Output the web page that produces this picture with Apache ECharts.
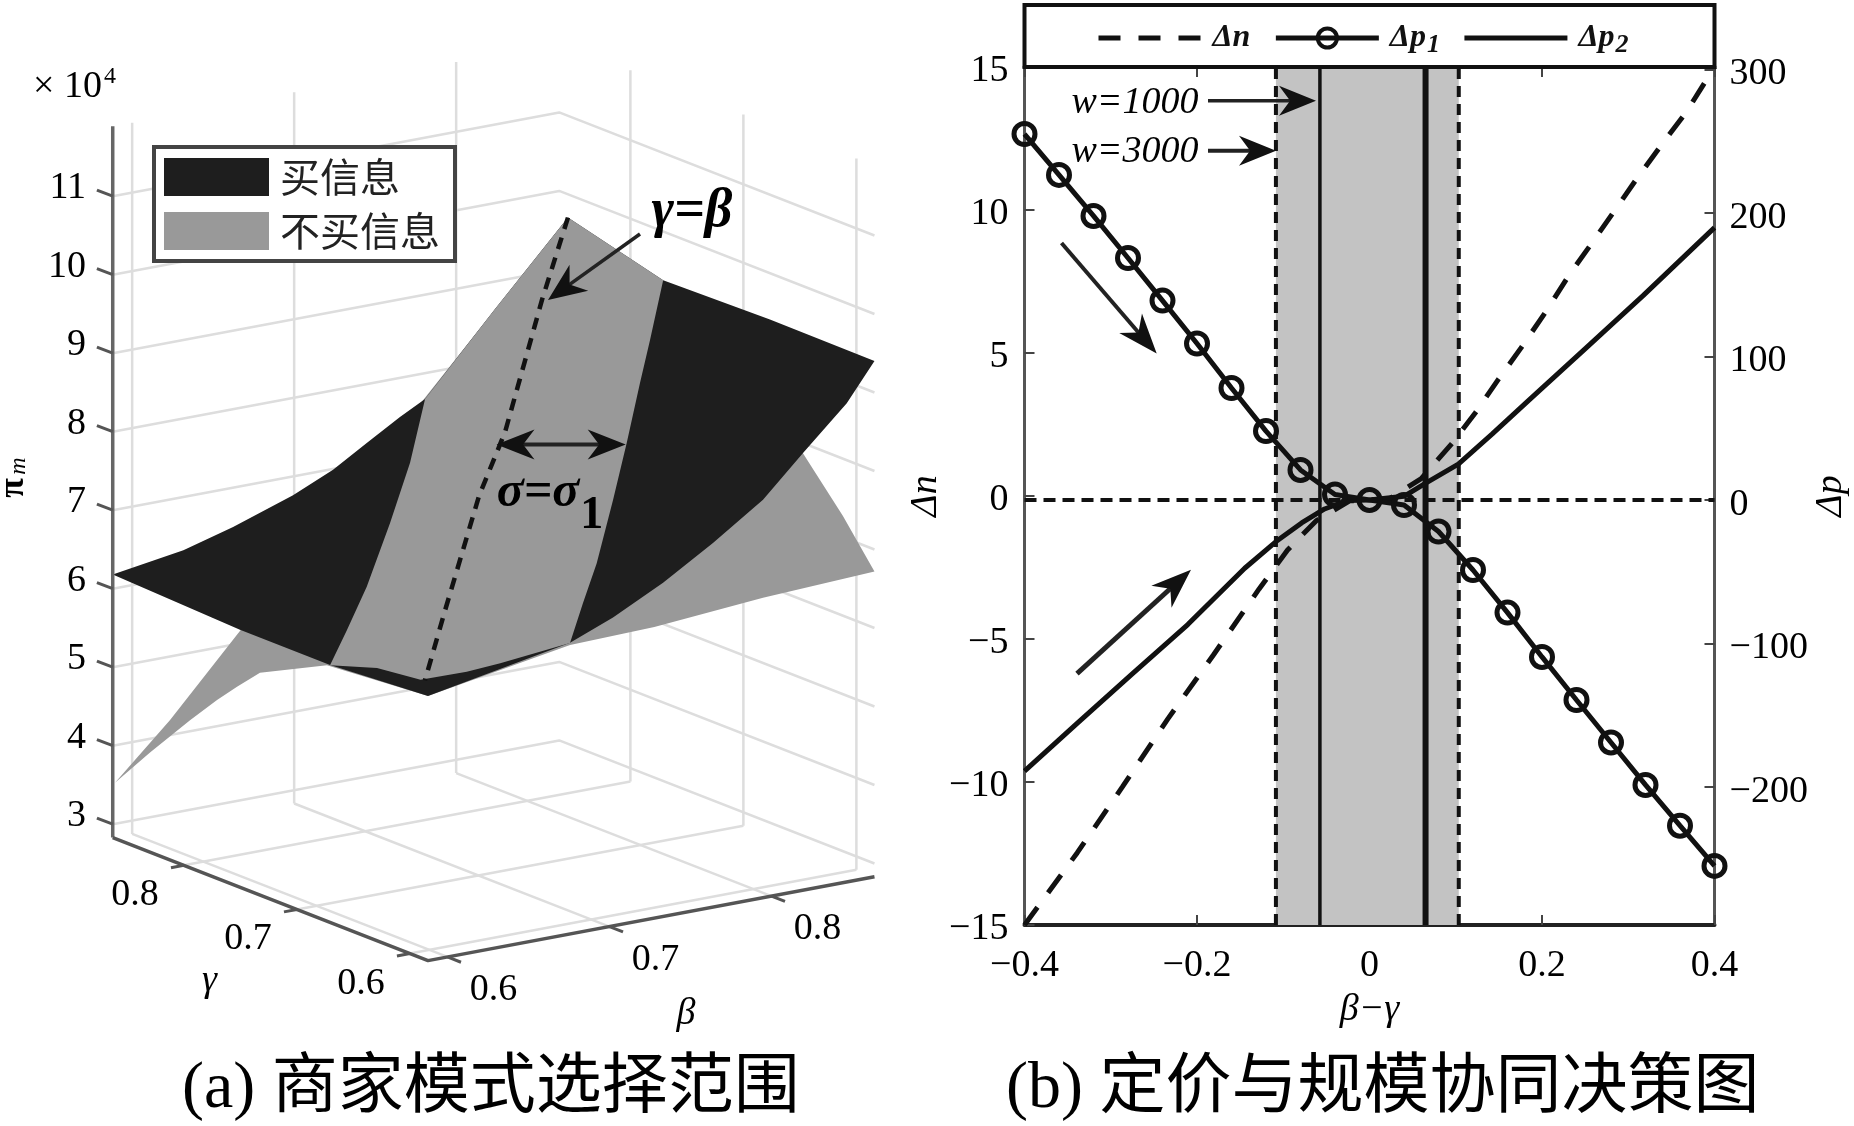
<!DOCTYPE html>
<html><head><meta charset="utf-8">
<style>html,body{margin:0;padding:0;background:#fff}#c{width:1854px;height:1126px}</style>
<script src="https://cdn.jsdelivr.net/npm/echarts@6/dist/echarts.min.js"></script>
</head><body><div id="c"></div>
<script>
// ---------- panel (b) data ----------
const xMarkers = [-0.4,-0.36,-0.32,-0.28,-0.24,-0.2,-0.16,-0.12,-0.08,-0.04,0,0.04,0.08,0.12,0.16,0.2,0.24,0.28,0.32,0.36,0.4];
const dP1 = [255,226.5,197.9,168.6,138.9,109,78,48,20.9,3.8,0,-3.5,-22,-48.8,-78.5,-109.4,-139.4,-169,-198.6,-227,-255];
const xDn = [-0.4,-0.339,-0.2865,-0.234,-0.181,-0.128,-0.095,-0.062,-0.023,0.023,0.06,0.096,0.123,0.149,0.1755,0.205,0.2315,0.258,0.284,0.31,0.34,0.367,0.4];
const dN  = [-15,-12.48,-10.17,-7.8,-5.56,-3.25,-1.89,-0.87,-0.17,-0.1,0.61,1.85,2.92,4.06,5.17,6.47,7.73,8.85,9.97,11.1,12.34,13.41,15];
const xDp2 = [-0.4,-0.339,-0.2767,-0.2107,-0.1447,-0.1084,-0.0787,-0.0521,-0.0255,0,0.04,0.0632,0.103,0.1424,0.1852,0.2512,0.3172,0.4];
const dP2  = [-189,-155.7,-122,-86.8,-47.6,-29,-16,-6.3,-0.4,0,2.5,11,25,46,69.7,106,142.4,189.8];
const w1000 = [-0.0575,0.065];
const w3000 = [-0.1085,0.1035];
const rightTicks = [-200,-100,0,100,200,300];

// ---------- panel (a) data: [beta, gamma, pi_m/1e4] ----------
const betaRange = [0.588,0.8636], gammaRange = [0.584,0.863], zRange = [2.83,11.89];
const betaTicks = [0.6,0.7,0.8], gammaTicks = [0.6,0.7,0.8], zTicks = [3,4,5,6,7,8,9,10,11];
const surfaceUpper = [[.588,.863,6.18],[.6316,.863,6.32],[.6623,.863,6.50],[.6993,.863,6.76],[.724,.863,6.99],[.7448,.863,7.25],[.7653,.863,7.50],[.7808,.863,7.67],[.824,.863,8.65],[.869,.863,9.64],[.8636,.771,9.38],[.8636,.6765,9.41],[.8636,.584,9.40],[.8465,.584,8.93],[.8195,.584,8.40],[.7948,.584,7.90],[.7639,.584,7.47],[.7331,.584,7.08],[.7022,.584,6.76],[.6757,.584,6.54],[.588,.584,6.2],[.588,.6707,6.11],[.588,.7504,6.11]];
const bandNoBuy = [[.7808,.863,7.67],[.824,.863,8.65],[.869,.863,9.64],[.8636,.771,9.38],[.8428,.7528,8.80],[.8224,.7324,8.45],[.7952,.7052,7.94],[.7673,.6773,7.48],[.734,.644,6.99],[.706,.616,6.75],[.6795,.5895,6.49],[.634,.586,6.43],[.6133,.586,6.40],[.589,.592,6.36],[.59,.632,6.28],[.591,.675,6.07],[.6251,.7091,6.19],[.6659,.7499,6.36],[.7135,.7975,6.72],[.7543,.8383,7.10]];
const surfaceLower = [[.588,.861,3.54],[.6234,.863,4.19],[.6653,.863,5.13],[.869,.863,9.64],[.8636,.6473,7.87],[.8636,.6119,7.27],[.8636,.584,6.72],[.7948,.584,6.65],[.7277,.584,6.54],[.6757,.584,6.51],[.588,.584,6.2],[.588,.6734,6.09],[.588,.7327,5.66],[.588,.753,5.37],[.588,.7707,5.10],[.588,.7946,4.71],[.588,.83,4.10]];
const diagonal = [[.869,.863,9.64],[.83,.83,8.93],[.7544,.7544,7.96],[.7013,.7013,7.65],[.632,.632,6.85],[.591,.591,6.35]];

// orthographic view of the 3-D box
const view = {ox:428, oy:960.6, bx:1620, by:304, gx:1130, gy:441, zy:78.5};
function project(p){
  const b=p[0]-betaRange[0], g=p[1]-gammaRange[0], z=p[2]-zRange[0];
  return [view.ox+b*view.bx-g*view.gx, view.oy-b*view.by-g*view.gy-z*view.zy];
}
const [bMin,bMax]=betaRange,[gMin,gMax]=gammaRange,[zMin,zMax]=zRange;
const OV=2;
function poly(name,verts,color,z){
  const pts=verts.map(project);
  return {type:'custom',name,xAxisIndex:OV,yAxisIndex:OV,coordinateSystem:'cartesian2d',clip:false,silent:true,z,
    itemStyle:{color},data:pts,encode:{x:0,y:1},
    renderItem(params,api){
      if(params.dataIndex!==0) return null;
      return {type:'polygon',shape:{points:pts.map(p=>api.coord(p))},style:{fill:color}};
    }};
}
function line3(verts,color,width,z,dash){
  return {type:'line',xAxisIndex:OV,yAxisIndex:OV,data:verts.map(project),symbol:'none',silent:true,z,
    lineStyle:{color,width,type:dash||'solid',cap:'butt'}};
}
const GRIDC='#dddddd',GW=2.5;
const wallSeries=[];
zTicks.forEach(z=>wallSeries.push(line3([[bMin,gMax,z],[bMax,gMax,z],[bMax,gMin,z]],GRIDC,GW,1)));
betaTicks.forEach(b=>{wallSeries.push(line3([[b,gMax,zMin],[b,gMax,zMax]],GRIDC,GW,1));wallSeries.push(line3([[b,gMin,zMin],[b,gMax,zMin]],GRIDC,GW,1));});
gammaTicks.forEach(g=>{wallSeries.push(line3([[bMax,g,zMin],[bMax,g,zMax]],GRIDC,GW,1));wallSeries.push(line3([[bMin,g,zMin],[bMax,g,zMin]],GRIDC,GW,1));});
const AXC='#555';
const axisSeries=[
  line3([[bMin,gMax,zMax],[bMin,gMax,zMin]],'#666',3.5,6),
  line3([[bMin,gMax,zMin],[bMin,gMin,zMin],[bMax,gMin,zMin]],AXC,3.5,6)
];
zTicks.forEach(z=>axisSeries.push(line3([[bMin,gMax,z],[bMin,gMax+0.014,z]],AXC,3,6)));
betaTicks.forEach(b=>axisSeries.push(line3([[b,gMin,zMin],[b,gMin-0.012,zMin]],AXC,3,6)));
gammaTicks.forEach(g=>axisSeries.push(line3([[bMin,g,zMin],[bMin-0.008,g,zMin]],AXC,3,6)));

// annotation arrows: [x0,y0,x1,y1,headLength,headHalfWidth,lineWidth,double]
const arrows=[
  [640,234,548,300,38,16,3.5,0],
  [496.5,444.6,625.7,444.6,38,15,4,1],
  [1208,100.7,1316,100.7,37,15,3.5,0],
  [1208,150.7,1276,150.7,37,15,4,0],
  [1061.5,243,1156.7,353.6,40,15,4,0],
  [1077,673.7,1191,569.8,40,15,5,0]
];
function arrowShapes(a,api){
  const [x0,y0,x1,y1,L,H,W,dbl]=a,P=api.coord([x0,y0]),Q=api.coord([x1,y1]);
  const len=Math.hypot(Q[0]-P[0],Q[1]-P[1]),ux=(Q[0]-P[0])/len,uy=(Q[1]-P[1])/len,nx=-uy,ny=ux;
  const head=(T,s)=>({type:'polygon',shape:{points:[T,
     [T[0]-s*ux*L+nx*H,T[1]-s*uy*L+ny*H],[T[0]-s*ux*L*.7,T[1]-s*uy*L*.7],[T[0]-s*ux*L-nx*H,T[1]-s*uy*L-ny*H]]},style:{fill:'#111'}});
  const sx=dbl?P[0]+ux*L*.5:P[0],sy=dbl?P[1]+uy*L*.5:P[1];
  const out=[{type:'line',shape:{x1:sx,y1:sy,x2:Q[0]-ux*L*.5,y2:Q[1]-uy*L*.5},style:{stroke:'#222',lineWidth:W}},head(Q,1)];
  if(dbl) out.push(head(P,-1));
  return out;
}
const arrowSeries={type:'custom',xAxisIndex:OV,yAxisIndex:OV,coordinateSystem:'cartesian2d',clip:false,silent:true,z:12,
  data:arrows.map(a=>[a[0],a[1]]),encode:{x:0,y:1},
  renderItem(p,api){return {type:'group',children:arrowShapes(arrows[p.dataIndex],api)};}};

// ---------- text ----------
const SERIF='Times New Roman';
const CAPFONT='"Times New Roman","Noto Sans CJK SC"';
function T(x,y,text,size,o){o=o||{};
  return {type:'text',z:100,x,y,rotation:o.rot||0,silent:true,style:{text,fontFamily:o.fam||SERIF,fontSize:size,fontStyle:o.fs||'normal',fontWeight:o.fw||'normal',fill:o.fill||'#000',
    textAlign:o.align||'center',textVerticalAlign:'middle'}};
}
const texts=[];
zTicks.forEach(z=>{const p=project([bMin,gMax,z]);texts.push(T(86,p[1]-8,String(z),38,{align:'right'}));});
betaTicks.forEach(b=>{const p=project([b,gMin,zMin]);texts.push(T(p[0]+46,p[1]+33,b.toFixed(1),38));});
gammaTicks.forEach(g=>{const p=project([bMin,g,zMin]);texts.push(T(p[0]-49,p[1]+30,g.toFixed(1),38));});
texts.push(
  T(33,87,'× 10',38,{align:'left'}),
  T(104,77,'4',24,{align:'left'}),
  T(209.5,981,'γ',38,{fs:'italic'}),
  T(686,1014,'β',38,{fs:'italic'}),
  T(14,488,'π',36,{rot:Math.PI/2,fw:'bold'}),
  T(19,466,'m',24,{rot:Math.PI/2,fs:'italic'}),
  T(692,212,'γ=β',54,{fs:'italic',fw:'bold'}),
  T(538,493,'σ=σ',50,{fs:'italic',fw:'bold'}),
  T(591.7,516,'1',46,{fw:'bold'}),
  T(1135,103,'w=1000',38,{fs:'italic'}),
  T(1135,152,'w=3000',38,{fs:'italic'}),
  T(182,1090,'(a) 商家模式选择范围',66,{align:'left',fam:CAPFONT}),
  T(1006,1090,'(b) 定价与规模协同决策图',66,{align:'left',fam:CAPFONT})
);

const fmtMinus=v=>String(v).replace('-','\u2212');
const LBL={fontFamily:SERIF,fontSize:38,color:'#000'};
const chart=echarts.init(document.getElementById('c'));
const vline=(x,width,type)=>({type:'line',xAxisIndex:0,yAxisIndex:0,data:[[x,-15],[x,15]],symbol:'none',silent:true,z:4,lineStyle:{color:'#111',width,type,cap:'butt'}});
chart.setOption({
  animation:false,
  grid:[{left:1024.5,top:67,width:690,height:858,outerBoundsMode:'none'},{left:0,top:0,right:0,bottom:0,outerBoundsMode:'none'}],
  xAxis:[
    {type:'value',gridIndex:0,min:-0.4,max:0.4,interval:0.2,position:'bottom',splitLine:{show:false},
     axisLine:{onZero:false,lineStyle:{color:'#222',width:4}},axisTick:{inside:true,length:10,lineStyle:{color:'#444',width:2}},
     axisLabel:{...LBL,margin:22,formatter:fmtMinus,showMinLabel:true,showMaxLabel:true},
     name:'β−γ',nameLocation:'middle',nameGap:66,nameTextStyle:{fontFamily:SERIF,fontSize:38,fontStyle:'italic',color:'#000'}},
    {type:'value',gridIndex:0,min:-0.4,max:0.4,interval:0.2,position:'top',splitLine:{show:false},
     axisLine:{onZero:false,lineStyle:{color:'#222',width:4}},axisTick:{inside:true,length:10,lineStyle:{color:'#444',width:2}},axisLabel:{show:false}},
    {type:'value',gridIndex:1,min:0,max:1854,show:false}
  ],
  yAxis:[
    {type:'value',gridIndex:0,min:-15,max:15,interval:5,position:'left',splitLine:{show:false},
     axisLine:{onZero:false,lineStyle:{color:'#555',width:3}},axisTick:{inside:true,length:10,lineStyle:{color:'#444',width:2}},
     axisLabel:{...LBL,margin:16,formatter:fmtMinus,verticalAlign:'top',lineHeight:8},
     name:'Δn',nameLocation:'middle',nameGap:72,nameRotate:90,nameTextStyle:{fontFamily:SERIF,fontSize:38,fontStyle:'italic',color:'#000'}},
    {type:'value',gridIndex:0,min:-296.2,max:301.7,position:'right',splitLine:{show:false},
     axisLine:{onZero:false,lineStyle:{color:'#555',width:3}},
     axisTick:{inside:true,length:10,lineStyle:{color:'#444',width:2},customValues:rightTicks},
     axisLabel:{...LBL,margin:15,formatter:fmtMinus,customValues:rightTicks,verticalAlign:'top',lineHeight:10},
     name:'Δp',nameLocation:'middle',nameGap:98,nameRotate:90,nameTextStyle:{fontFamily:SERIF,fontSize:38,fontStyle:'italic',color:'#000'}},
    {type:'value',gridIndex:1,min:0,max:1126,inverse:true,show:false}
  ],
  legend:[
    {data:['买信息','不买信息'],orient:'vertical',left:154,top:147,padding:[10,15,10,10],itemWidth:105,itemHeight:38,itemGap:14,
     icon:'rect',backgroundColor:'#fff',borderColor:'#444',borderWidth:4,z:20,selectedMode:false,
     textStyle:{fontFamily:'Noto Sans CJK SC',fontSize:40,color:'#222',padding:[0,0,0,6]}},
    {data:[{name:'Δn',itemStyle:{opacity:0}},{name:'Δp1'},{name:'Δp2',itemStyle:{opacity:0}}],
     left:1091,top:17,itemWidth:103,itemHeight:24,itemGap:22,z:20,selectedMode:false,
     lineStyle:{width:5},itemStyle:{borderWidth:4},
     formatter:n=>'{a|'+n.slice(0,2)+'}{b|'+n.slice(2)+'}',
     textStyle:{padding:[0,0,0,6],rich:{a:{fontFamily:SERIF,fontSize:32,fontStyle:'italic',fontWeight:'bold',color:'#111'},
       b:{fontFamily:SERIF,fontSize:26,fontStyle:'italic',fontWeight:'bold',color:'#111',verticalAlign:'bottom',padding:[14,7,0,1]}}}}
  ],
  graphic:{elements:[
    {type:'rect',z:15,silent:true,shape:{x:1024.5,y:5,width:690,height:62},style:{fill:'#fff',stroke:'#111',lineWidth:4}},
    ...texts]},
  series:[
    ...wallSeries,
    poly('lowerSurface',surfaceLower,'#999999',2),
    poly('买信息',surfaceUpper,'#1e1e1e',3),
    poly('不买信息',bandNoBuy,'#999999',4),
    line3(diagonal,'#111',4.5,5,[12,9]),
    ...axisSeries,
    arrowSeries,
    {type:'line',name:'band',xAxisIndex:0,yAxisIndex:0,data:[],silent:true,z:1,
     markArea:{silent:true,itemStyle:{color:'#c3c3c3'},data:[[{xAxis:w3000[0]},{xAxis:w3000[1]}]]}},
    vline(w3000[0],4,[11,7]),vline(w3000[1],4,[11,7]),
    vline(w1000[0],3.5,'solid'),vline(w1000[1],6,'solid'),
    {type:'line',xAxisIndex:0,yAxisIndex:1,data:[[-0.4,0],[0.4,0]],symbol:'none',silent:true,z:4,lineStyle:{color:'#111',width:4,type:[12,7],cap:'butt'}},
    {type:'line',name:'Δn',xAxisIndex:0,yAxisIndex:0,data:xDn.map((x,i)=>[x,dN[i]]),symbol:'none',z:6,silent:true,
     lineStyle:{color:'#111',width:5,type:[22,18],cap:'butt'},itemStyle:{color:'#111'}},
    {type:'line',name:'Δp1',xAxisIndex:0,yAxisIndex:1,data:xMarkers.map((x,i)=>[x,dP1[i]]),symbol:'circle',symbolSize:21,clip:false,z:7,silent:true,
     lineStyle:{color:'#111',width:5},itemStyle:{color:'rgba(0,0,0,0)',borderColor:'#111',borderWidth:5}},
    {type:'line',name:'Δp2',xAxisIndex:0,yAxisIndex:1,data:xDp2.map((x,i)=>[x,dP2[i]]),symbol:'none',z:6,silent:true,
     lineStyle:{color:'#111',width:5},itemStyle:{color:'#111'}}
  ]
});
</script></body></html>
